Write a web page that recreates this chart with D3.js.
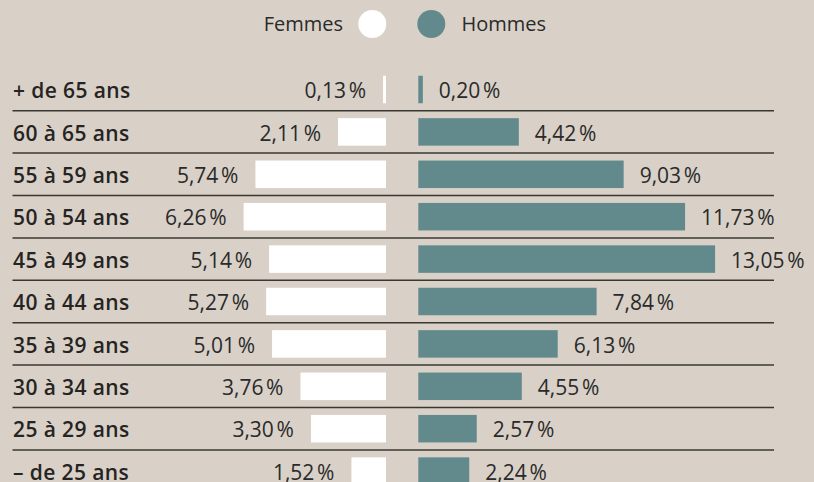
<!DOCTYPE html>
<html lang="fr">
<head>
    <meta charset="UTF-8">
    <title>Femmes / Hommes par âge</title>
    <script src="https://d3js.org/d3.v7.min.js"></script>
    <style>
        html, body {
            margin: 0;
            padding: 0;
            background: #d9d1c8;
        }
        svg {
            display: block;
            background: #d9d1c8;
        }
        .cat-label {
            font-family: "Open Sans", sans-serif;
            font-size: 21px;
            font-weight: 600;
            letter-spacing: 0.4px;
            fill: #262422;
        }
        .value-label {
            font-family: "Open Sans", sans-serif;
            font-size: 21px;
            letter-spacing: 0.4px;
            fill: #2a2a2a;
        }
        .legend-label {
            font-family: "Open Sans", sans-serif;
            font-size: 20px;
            fill: #2a2a2a;
        }
    </style>
</head>
<body>

    <svg id="chart"></svg>

    <script>
        const categories = ["+ de 65 ans", "60 à 65 ans", "55 à 59 ans", "50 à 54 ans", "45 à 49 ans",
            "40 à 44 ans", "35 à 39 ans", "30 à 34 ans", "25 à 29 ans", "– de 25 ans"];
        const femmes = [0.13, 2.11, 5.74, 6.26, 5.14, 5.27, 5.01, 3.76, 3.30, 1.52];
        const hommes = [0.20, 4.42, 9.03, 11.73, 13.05, 7.84, 6.13, 4.55, 2.57, 2.24];
        const seriesNames = ["Femmes", "Hommes"];

        const width = 814, height = 482;
        const colors = { Femmes: "#ffffff", Hommes: "#628a8c" };
        const centerLeft = 386, centerRight = 418.3;

        const svg = d3.select("#chart").attr("width", width).attr("height", height);

        const rows = categories.map((c, i) => ({ category: c, f: femmes[i], h: hommes[i] }));

        const y = d3.scaleBand()
            .domain(categories)
            .range([68.3, 68.3 + 42.4 * categories.length])
            .padding(0);

        // same px per % on both sides
        const len = d3.scaleLinear().domain([0, 14]).range([0, 318.4]);

        const barH = 27.5;
        const fmt = v => d3.format(".2f")(v).replace(".", ",") + "\u202F%";
        const mid = d => y(d.category) + y.bandwidth() / 2;

        // separators
        svg.selectAll(".sep")
            .data(categories.slice(0, -1))
            .enter().append("line")
            .attr("x1", 12.5).attr("x2", 774)
            .attr("y1", d => y(d) + y.bandwidth())
            .attr("y2", d => y(d) + y.bandwidth())
            .attr("stroke", "#3a3733")
            .attr("stroke-width", 1.5);

        // category labels
        svg.selectAll(".cat-label")
            .data(rows)
            .enter().append("text")
            .attr("class", "cat-label")
            .attr("x", 13)
            .attr("y", d => mid(d) + 8.6)
            .text(d => d.category);

        // women bars
        svg.selectAll(".bar-f")
            .data(rows)
            .enter().append("rect")
            .attr("class", "bar-f")
            .attr("x", d => centerLeft - len(d.f))
            .attr("y", d => mid(d) - barH / 2)
            .attr("width", d => len(d.f))
            .attr("height", barH)
            .attr("fill", colors.Femmes);

        // men bars
        svg.selectAll(".bar-h")
            .data(rows)
            .enter().append("rect")
            .attr("class", "bar-h")
            .attr("x", centerRight)
            .attr("y", d => mid(d) - barH / 2)
            .attr("width", d => len(d.h))
            .attr("height", barH)
            .attr("fill", colors.Hommes);

        // values
        svg.selectAll(".val-f")
            .data(rows)
            .enter().append("text")
            .attr("class", "value-label")
            .attr("text-anchor", "end")
            .attr("x", d => centerLeft - len(d.f) - 17)
            .attr("y", d => mid(d) + 8.6)
            .text(d => fmt(d.f));

        svg.selectAll(".val-h")
            .data(rows)
            .enter().append("text")
            .attr("class", "value-label")
            .attr("x", d => centerRight + len(d.h) + 16)
            .attr("y", d => mid(d) + 8.6)
            .text(d => fmt(d.h));

        // legend
        const legend = svg.append("g");
        legend.append("text")
            .attr("class", "legend-label")
            .attr("x", 343).attr("y", 24).attr("dy", "0.35em")
            .attr("text-anchor", "end")
            .text(seriesNames[0]);
        legend.append("circle")
            .attr("cx", 372.3).attr("cy", 24).attr("r", 14)
            .attr("fill", colors.Femmes);
        legend.append("circle")
            .attr("cx", 431.3).attr("cy", 24).attr("r", 14)
            .attr("fill", colors.Hommes);
        legend.append("text")
            .attr("class", "legend-label")
            .attr("x", 461.5).attr("y", 24).attr("dy", "0.35em")
            .text(seriesNames[1]);
    </script>

</body>
</html>
